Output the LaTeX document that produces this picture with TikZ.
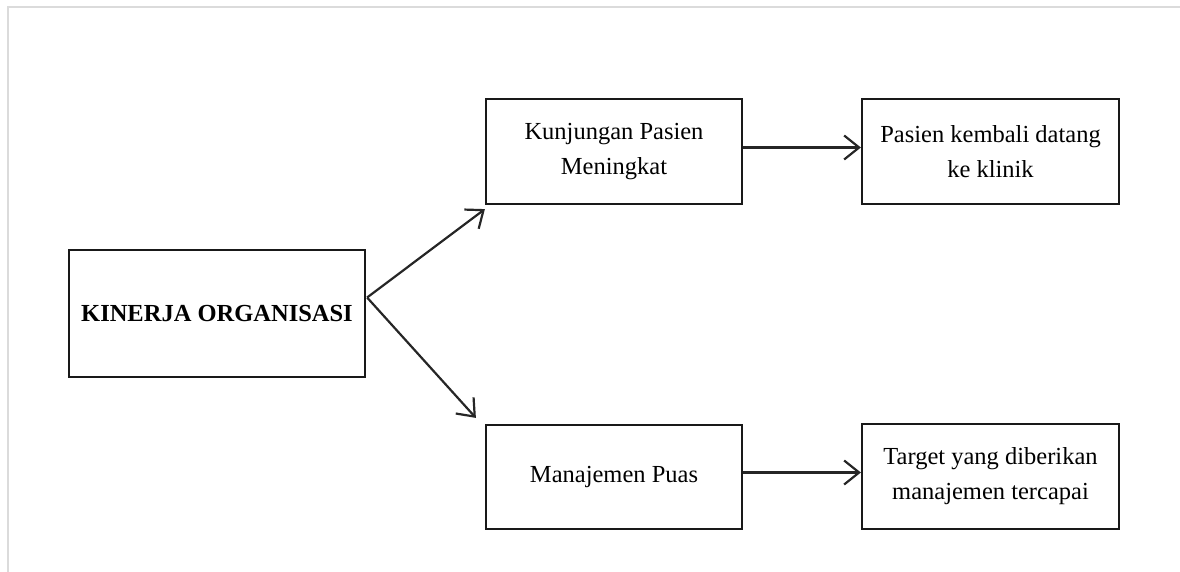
\documentclass[tikz,border=0pt]{standalone}
\usepackage{fontspec}
\setmainfont{Liberation Serif}
\usetikzlibrary{arrows.meta,calc}
\begin{document}
\begin{tikzpicture}[x=1pt,y=-1pt,
  box/.style={draw=black!90,line width=2.2pt,align=center,inner sep=0pt,font=\fontsize{24.5}{35}\selectfont},
  conn/.style={draw=black!85,line width=2.2pt,-{Straight Barb[length=15pt,width=24pt,line width=2.2pt]}},
  frame/.style={draw=black!14,line width=2pt}]
\useasboundingbox (0,0) rectangle (1180,572);
\draw[frame] (8,572) -- (8,7) -- (1180,7);
\node[box,minimum width=296pt,minimum height=127pt] (k) at (217,313.5) {\bfseries KINERJA ORGANISASI};
\node[box,minimum width=256pt,minimum height=105pt] (kp) at (614,151.5) {Kunjungan Pasien\\Meningkat};
\node[box,minimum width=257pt,minimum height=105pt] (pk) at (990.5,151.5) {Pasien kembali datang\\ke klinik};
\node[box,minimum width=256pt,minimum height=104pt] (mp) at (614,477) {Manajemen Puas};
\node[box,minimum width=257pt,minimum height=105pt] (tg) at (990.5,476.5) {Target yang diberikan\\manajemen tercapai};
\coordinate (ks) at ($(k.east)+(1,-16)$);
\draw[conn] (ks) -- ($(kp.south west)+(0,4)$);
\draw[conn] (ks) -- ($(mp.north west)+(-9,-6)$);
\draw[conn] ($(kp.east)+(0,-4)$) -- ($(pk.west)+(0,-4)$);
\draw[conn] ($(mp.east)+(0,-4.5)$) -- ($(tg.west)+(0,-4)$);
\end{tikzpicture}
\end{document}
